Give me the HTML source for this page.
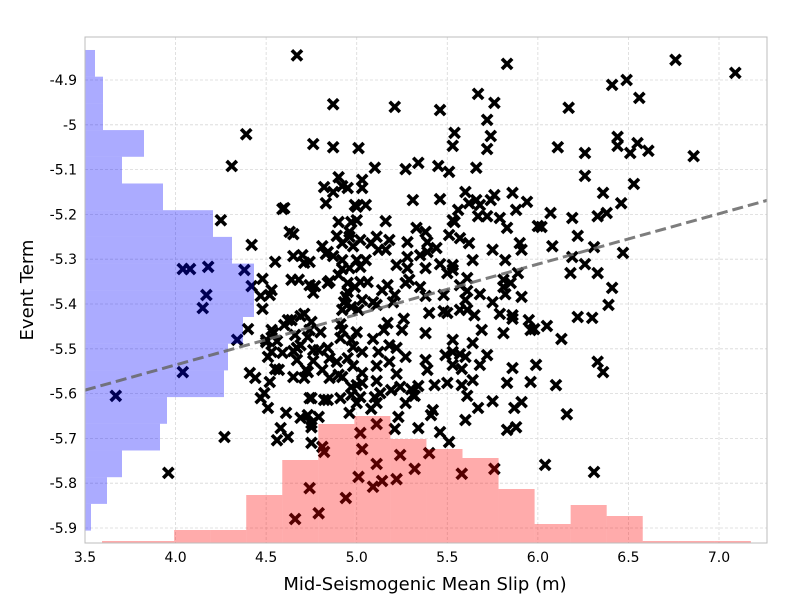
<!DOCTYPE html>
<html><head><meta charset="utf-8"><style>
html,body{margin:0;padding:0;background:#fff;}
svg{display:block;font-family:"DejaVu Sans","Liberation Sans",sans-serif;}
</style></head><body>
<svg id="chart" width="800" height="600" viewBox="0 0 800 600" xmlns="http://www.w3.org/2000/svg">
<rect x="0" y="0" width="800" height="600" fill="#fff"/>
<g id="grid"></g>
<g id="points"></g>
<g id="hists"></g>
<g id="trend"></g>
<rect x="85" y="37" width="682" height="506" fill="none" stroke="#bcbcbc" stroke-width="1"/>
<g id="xticks"></g>
<g id="yticks"></g>
<text x="425" y="590" text-anchor="middle" font-size="18" fill="#000">Mid-Seismogenic Mean Slip (m)</text>
<text transform="translate(33,290) rotate(-90)" text-anchor="middle" font-size="18" fill="#000">Event Term</text>
</svg>
<script>
const xTicks = [3.5, 4.0, 4.5, 5.0, 5.5, 6.0, 6.5, 7.0];
const xTickLabels = ["3.5","4.0","4.5","5.0","5.5","6.0","6.5","7.0"];
const yTicks = [-4.9, -5.0, -5.1, -5.2, -5.3, -5.4, -5.5, -5.6, -5.7, -5.8, -5.9];
const yTickLabels = ["-4.9","-5","-5.1","-5.2","-5.3","-5.4","-5.5","-5.6","-5.7","-5.8","-5.9"];
const slipHistStart = 3.594;
const slipHistWidth = 0.199;
const slipHistCounts = [2,2,13,13,48,83,119,127,104,94,85,54,19,38,27,2,2,2];
const termHistStart = -4.833;
const termHistWidth = 0.0596;
const termHistCounts = [10,18,18,59,37,78,128,147,169,169,158,143,139,82,75,37,22,6];
const trendSlope = 0.1125;
const trendIntercept = -5.986;
const slipValues = [4.67,6.76,5.83,7.09,6.49,6.41,6.56,4.87,5.21,5.46,5.67,5.76,5.72,5.74,5.72,5.54,5.53,6.17,4.39,4.76,4.87,5.01,5.10,4.31,6.11,6.26,6.26,6.44,6.44,6.55,6.51,6.61,6.86,6.53,6.36,6.46,6.38,6.33,6.07,6.02,6.19,6.22,6.08,6.31,6.47,6.19,6.26,6.33,6.18,6.41,6.39,6.22,6.30,5.96,6.05,6.13,6.33,6.36,5.86,5.96,6.10,5.83,5.58,
5.60,5.66,5.76,5.86,5.88,5.72,5.53,5.83,5.62,5.75,5.90,5.91,5.82,5.89,5.64,5.53,5.61,5.81,5.91,5.68,5.75,5.61,5.86,5.81,5.69,5.64,5.53,5.60,5.50,
6.16,5.75,5.67,5.60,5.42,5.41,5.46,5.51,5.34,5.21,5.11,5.02,5.03,5.11,5.24,5.32,5.40,5.58,5.76,5.83,5.88,6.04,6.31,4.82,4.74,4.94,4.79,5.01,5.14,5.22,5.09,4.75,4.75,4.74,4.82,4.96,4.97,5.13,5.32,5.24,5.11,4.73,
4.59,4.25,4.63,4.42,4.55,4.65,4.70,4.74,4.83,4.87,4.92,5.03,5.03,5.00,4.90,4.96,5.00,4.84,4.92,4.04,4.08,4.18,4.38,4.42,4.17,4.15,4.48,4.52,4.48,4.64,4.74,4.84,4.95,5.06,4.40,4.34,4.50,4.54,4.62,4.69,4.74,4.80,4.92,5.00,4.67,4.59,4.53,4.76,4.84,4.89,4.98,4.04,3.67,4.41,4.44,4.47,4.51,4.57,4.65,4.73,4.81,4.92,5.03,4.84,5.02,5.10,4.61,4.69,4.58,4.56,4.62,4.75,4.27,3.96,4.81,4.66,
4.90,4.82,4.95,4.60,4.99,5.05,4.97,5.16,4.65,4.89,4.96,4.98,5.02,4.81,5.00,4.92,5.08,5.11,5.12,5.05,4.71,4.83,4.87,4.92,4.96,5.02,4.90,4.68,5.22,5.18,5.16,
5.27,5.34,5.45,5.51,5.66,5.31,5.46,5.62,5.68,5.74,5.94,5.56,5.67,5.79,5.54,5.51,5.57,5.33,5.38,5.28,5.39,5.28,5.35,5.39,5.28,5.44,5.29,5.53,5.46,5.38,5.50,6.00,
4.53,4.47,4.77,4.76,4.85,4.95,5.02,4.94,4.99,4.93,5.14,5.09,5.17,5.21,5.20,5.11,4.91,4.92,4.97,5.01,5.03,4.71,4.64,4.53,4.60,4.66,4.73,4.75,4.79,4.91,4.97,4.69,4.56,4.50,4.65,4.67,4.76,4.72,4.71,4.55,4.51,4.85,4.95,4.98,4.90,4.85,5.03,5.11,5.18,5.22,5.03,5.09,5.15,5.17,5.18,5.12,5.22,4.52,4.49,4.75,4.91,4.97,5.00,5.11,5.19,5.08,5.00,4.79,
5.27,5.35,5.38,5.48,5.61,5.60,5.65,5.82,5.86,5.79,5.98,5.95,5.57,5.48,5.40,5.26,5.25,5.38,5.27,5.38,5.39,5.34,5.31,5.27,5.30,5.43,5.53,5.58,5.57,5.53,5.49,5.50,5.64,5.72,5.91,5.87,5.23,5.61,5.68,5.99,5.81,5.57,5.85];
const termValues = [-4.845,-4.855,-4.864,-4.884,-4.900,-4.911,-4.940,-4.954,-4.960,-4.967,-4.931,-4.951,-4.989,-5.025,-5.054,-5.018,-5.047,-4.962,-5.021,-5.043,-5.050,-5.052,-5.096,-5.092,-5.050,-5.063,-5.114,-5.027,-5.047,-5.041,-5.063,-5.058,-5.070,-5.132,-5.152,-5.175,-5.197,-5.204,-5.197,-5.228,-5.208,-5.248,-5.271,-5.273,-5.286,-5.295,-5.311,-5.331,-5.331,-5.364,-5.402,-5.429,-5.431,-5.458,-5.449,-5.478,-5.529,-5.552,-5.543,-5.574,-5.581,-5.576,-5.581,
-5.150,-5.168,-5.157,-5.152,-5.190,-5.204,-5.213,-5.230,-5.264,-5.279,-5.264,-5.279,-5.302,-5.331,-5.302,-5.324,-5.342,-5.362,-5.384,-5.378,-5.396,-5.413,-5.425,-5.465,-5.458,-5.487,-5.507,-5.518,-5.420,
-5.646,-5.617,-5.632,-5.659,-5.637,-5.648,-5.686,-5.708,-5.677,-5.679,-5.668,-5.688,-5.724,-5.757,-5.737,-5.768,-5.733,-5.779,-5.768,-5.681,-5.675,-5.759,-5.775,-5.730,-5.811,-5.833,-5.867,-5.786,-5.795,-5.791,-5.808,-5.710,-5.675,-5.610,-5.614,-5.643,-5.585,-5.599,-5.605,-5.585,-5.621,-5.648,
-5.188,-5.213,-5.239,-5.268,-5.306,-5.293,-5.291,-5.306,-5.175,-5.150,-5.137,-5.123,-5.141,-5.183,-5.217,-5.250,-5.213,-5.284,-5.302,-5.322,-5.322,-5.317,-5.324,-5.360,-5.380,-5.409,-5.344,-5.380,-5.411,-5.346,-5.358,-5.353,-5.353,-5.351,-5.456,-5.480,-5.485,-5.465,-5.436,-5.427,-5.458,-5.463,-5.458,-5.463,-5.498,-5.509,-5.507,-5.503,-5.498,-5.529,-5.496,-5.552,-5.605,-5.554,-5.565,-5.610,-5.632,-5.547,-5.563,-5.552,-5.547,-5.563,-5.576,-5.614,-5.608,-5.608,-5.643,-5.654,-5.677,-5.704,-5.697,-5.666,-5.697,-5.777,-5.719,-5.880,
-5.117,-5.139,-5.141,-5.186,-5.179,-5.179,-5.217,-5.215,-5.244,-5.248,-5.239,-5.271,-5.257,-5.271,-5.302,-5.264,-5.264,-5.250,-5.279,-5.302,-5.308,-5.288,-5.293,-5.322,-5.320,-5.317,-5.335,-5.346,-5.313,-5.257,-5.279,
-5.099,-5.085,-5.092,-5.105,-5.096,-5.168,-5.166,-5.175,-5.179,-5.168,-5.172,-5.190,-5.204,-5.208,-5.217,-5.246,-5.253,-5.230,-5.239,-5.262,-5.262,-5.295,-5.291,-5.284,-5.320,-5.275,-5.346,-5.313,-5.311,-5.320,-5.331,-5.226,
-5.369,-5.382,-5.360,-5.375,-5.349,-5.373,-5.351,-5.384,-5.362,-5.396,-5.369,-5.396,-5.358,-5.380,-5.396,-5.402,-5.445,-5.413,-5.407,-5.413,-5.391,-5.422,-5.436,-5.458,-5.447,-5.469,-5.474,-5.440,-5.503,-5.476,-5.480,-5.492,-5.483,-5.480,-5.505,-5.525,-5.527,-5.547,-5.565,-5.545,-5.518,-5.521,-5.521,-5.538,-5.558,-5.565,-5.554,-5.538,-5.529,-5.556,-5.507,-5.478,-5.458,-5.442,-5.492,-5.507,-5.498,-5.574,-5.599,-5.610,-5.610,-5.603,-5.581,-5.572,-5.592,-5.634,-5.621,-5.652,
-5.353,-5.362,-5.382,-5.380,-5.371,-5.391,-5.425,-5.378,-5.433,-5.422,-5.456,-5.436,-5.413,-5.416,-5.420,-5.433,-5.458,-5.465,-5.518,-5.525,-5.547,-5.583,-5.603,-5.621,-5.590,-5.581,-5.536,-5.545,-5.512,-5.480,-5.514,-5.576,-5.570,-5.514,-5.619,-5.632,-5.652,-5.605,-5.536,-5.536,-5.346,-5.358,-5.353];

const NS = "http://www.w3.org/2000/svg";
const L = 85, R = 767, T = 37, B = 543;
const X0 = 3.5, X1 = 7.0, PX0 = 85, PX1 = 719;
const Y0 = -4.9, Y1 = -5.9, PY0 = 80, PY1 = 528;
function sx(v){ return PX0 + (v - X0) * (PX1 - PX0) / (X1 - X0); }
function sy(v){ return PY0 + (v - Y0) * (PY1 - PY0) / (Y1 - Y0); }
function mk(tag, attrs, parent){
  const el = document.createElementNS(NS, tag);
  for (const k in attrs) el.setAttribute(k, attrs[k]);
  parent.appendChild(el);
  return el;
}
const grid = document.getElementById('grid');
const xg = document.getElementById('xticks');
const yg = document.getElementById('yticks');
xTicks.forEach((t, i) => {
  const x = sx(t);
  const gl = mk('line', {x1:x, x2:x, y1:T, y2:B, stroke:'#d8d8d8', 'stroke-width':0.8, 'stroke-dasharray':'3,2'}, grid);
  
  
  const tx = mk('text', {x:x, y:562, 'text-anchor':'middle', 'font-size':14, fill:'#000'}, xg);
  tx.textContent = xTickLabels[i];
  
  
});
yTicks.forEach((t, i) => {
  const y = sy(t);
  const gl = mk('line', {x1:L, x2:R, y1:y, y2:y, stroke:'#d8d8d8', 'stroke-width':0.8, 'stroke-dasharray':'3,2'}, grid);
  
  
  const tx = mk('text', {x:77, y:y+5, 'text-anchor':'end', 'font-size':14, fill:'#000'}, yg);
  tx.textContent = yTickLabels[i];
  
  
});
const pg = document.getElementById('points');
for (let i = 0; i < slipValues.length; i++) {
  const x = sx(slipValues[i]), y = sy(termValues[i]), s = 5.1;
  const p = mk('path', {d:`M${x-s},${y-s}L${x+s},${y+s}M${x-s},${y+s}L${x+s},${y-s}`, stroke:'#000', 'stroke-width':3.6, fill:'none'}, pg);
  
  
}
const hg = document.getElementById('hists');
slipHistCounts.forEach((c, i) => {
  const xa = sx(slipHistStart + i * slipHistWidth), xb = sx(slipHistStart + (i + 1) * slipHistWidth);
  const r = mk('rect', {x:xa, y:B - c, width:xb - xa, height:c, fill:'#ff0000', 'fill-opacity':0.33}, hg);
  
  
});
termHistCounts.forEach((c, i) => {
  const ya = sy(termHistStart - i * termHistWidth), yb = sy(termHistStart - (i + 1) * termHistWidth);
  const r = mk('rect', {x:L, y:ya, width:c, height:yb - ya, fill:'#0000ff', 'fill-opacity':0.33}, hg);
  
  
});
const tg = document.getElementById('trend');
const xr0 = X0, xr1 = X0 + (R - PX0) * (X1 - X0) / (PX1 - PX0);
const tl = mk('line', {x1:sx(xr0), y1:sy(trendIntercept + trendSlope * xr0), x2:sx(xr1), y2:sy(trendIntercept + trendSlope * xr1), stroke:'#666', 'stroke-opacity':0.85, 'stroke-width':3, 'stroke-dasharray':'11,5'}, tg);


</script>
</body></html>
